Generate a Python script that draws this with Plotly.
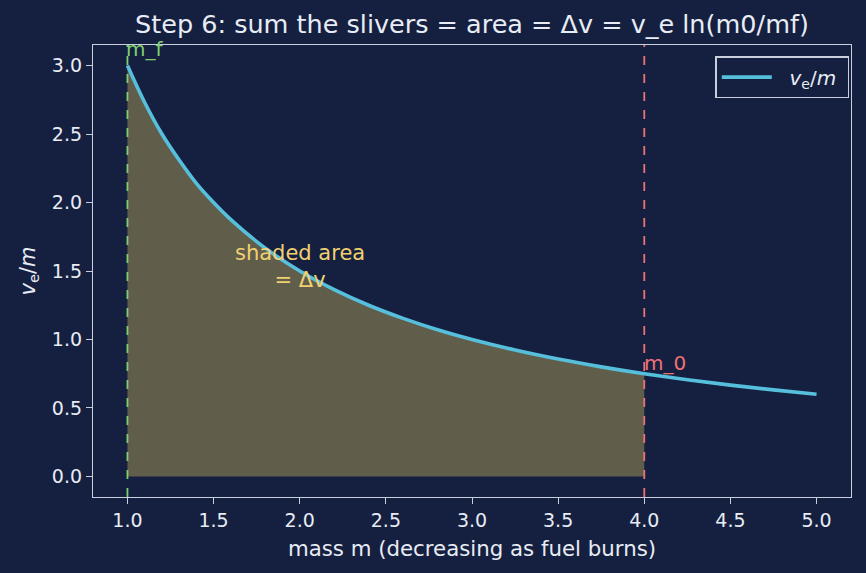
import plotly.graph_objects as go

# data
mass = [1.0, 1.1, 1.2, 1.3, 1.4, 1.5, 1.6, 1.8, 2.0, 2.2, 2.4, 2.6, 2.8, 3.0,
        3.25, 3.5, 3.75, 4.0, 4.25, 4.5, 4.75, 5.0]
ve_over_m = [3.00, 2.73, 2.50, 2.31, 2.14, 2.00, 1.875, 1.667, 1.50, 1.364, 1.25,
             1.154, 1.071, 1.00, 0.923, 0.857, 0.80, 0.75, 0.706, 0.667, 0.632, 0.60]
m_f = 1.0
m_0 = 4.0
x_ticks = [1.0, 1.5, 2.0, 2.5, 3.0, 3.5, 4.0, 4.5, 5.0]
y_ticks = [0.0, 0.5, 1.0, 1.5, 2.0, 2.5, 3.0]

BG = "#152040"
FG = "#e8ecf4"
SPINE = "#c9cfdc"
CURVE = "#56c0dc"
FILL = "rgba(240,208,96,0.35)"
GREEN = "#7fcf72"
RED = "#f07174"
YELLOW = "#f0d070"
FONT = "DejaVu Sans"

shade_x = [m for m in mass if m_f <= m <= m_0]
shade_y = [v for m, v in zip(mass, ve_over_m) if m_f <= m <= m_0]

fig = go.Figure()
fig.add_trace(go.Scatter(
    x=shade_x, y=shade_y, mode="lines", fill="tozeroy",
    fillcolor=FILL, line=dict(width=0.8, color="rgba(240,208,96,0.45)", shape="spline"),
    showlegend=False, hoverinfo="skip"))
fig.add_trace(go.Scatter(
    x=mass, y=ve_over_m, mode="lines",
    name="\u00a0\u00a0<i>v</i><sub>e</sub>/<i>m</i>\u00a0",
    line=dict(color=CURVE, width=3.6, shape="spline")))

fig.add_shape(type="line", xref="x", yref="paper", x0=m_f, x1=m_f, y0=0, y1=1,
              line=dict(color=GREEN, width=1.8, dash="dash"))
fig.add_shape(type="line", xref="x", yref="paper", x0=m_0, x1=m_0, y0=0, y1=1,
              line=dict(color=RED, width=1.8, dash="dash"))

fig.add_annotation(x=m_f, y=3.12, text="m_f", showarrow=False, xanchor="left",
                   yanchor="middle", xshift=-3, font=dict(color=GREEN, size=20, family=FONT))
fig.add_annotation(x=m_0, y=0.83, text="m_0", showarrow=False, xanchor="left",
                   yanchor="middle", xshift=-2, font=dict(color=RED, size=20, family=FONT))
fig.add_annotation(x=2.0, y=1.53, text="shaded area<br>= Δv", showarrow=False,
                   xanchor="center", yanchor="middle",
                   font=dict(color=YELLOW, size=21, family=FONT))

axis_common = dict(showline=True, mirror=True, linecolor=SPINE, linewidth=1.3,
                   ticks="outside", tickcolor=SPINE, ticklen=6, tickwidth=1.3,
                   showgrid=False, zeroline=False, automargin=False,
                   tickfont=dict(color=FG, size=19, family=FONT))

fig.update_layout(
    width=866, height=573,
    paper_bgcolor=BG, plot_bgcolor=BG,
    margin=dict(l=93, r=15, t=45, b=76),
    font=dict(family=FONT, color=FG),
    title=dict(text="Step 6: sum the slivers = area = Δv = v_e ln(m0/mf)",
               x=0.5, xref="paper", xanchor="center",
               y=1, yref="paper", yanchor="bottom", pad=dict(b=12),
               font=dict(size=25.5, color=FG, family=FONT)),
    xaxis=dict(range=[0.8, 5.2], tickvals=x_ticks,
               ticktext=[f"{v:.1f}" for v in x_ticks],
               title=dict(text="mass m (decreasing as fuel burns)",
                          font=dict(size=21.3, color=FG, family=FONT), standoff=11),
               **axis_common),
    yaxis=dict(range=[-0.15, 3.15], tickvals=y_ticks,
               ticktext=[f"{v:.1f}" for v in y_ticks],
               title=dict(text="<i>v</i><sub>e</sub>/<i>m</i>",
                          font=dict(size=21, color=FG, family=FONT), standoff=10),
               **axis_common),
    legend=dict(x=0.998, y=0.975, xanchor="right", yanchor="top",
                itemwidth=50,
                bgcolor="rgba(21,32,64,0.8)", bordercolor=SPINE, borderwidth=1.3,
                font=dict(size=20, color=FG, family=FONT)),
)

fig.write_html("out.html")
